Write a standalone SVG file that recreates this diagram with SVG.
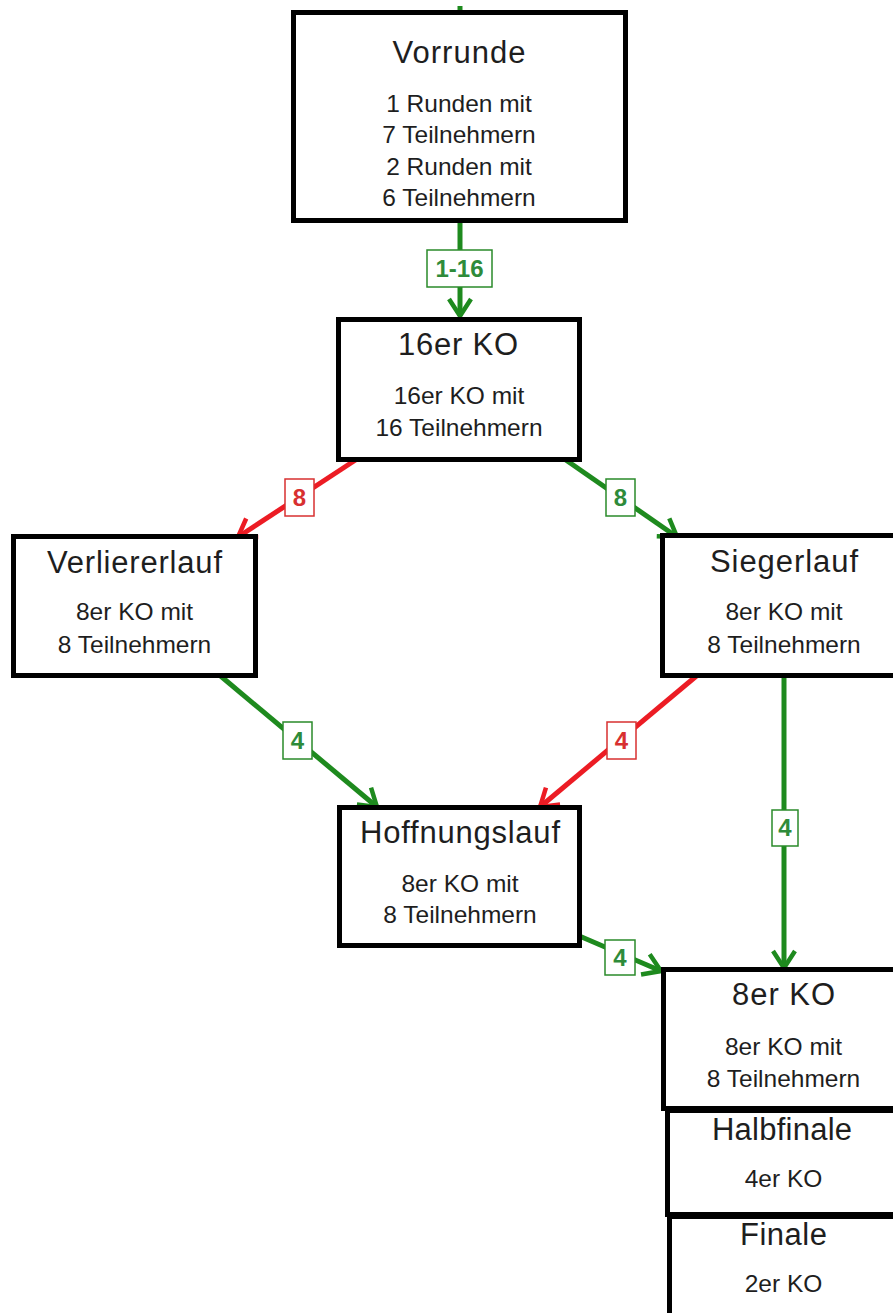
<svg xmlns="http://www.w3.org/2000/svg" width="893" height="1313" viewBox="0 0 893 1313">
<style>
.box{fill:#fff;stroke:#000;stroke-width:5}
.t{font-family:"Liberation Sans",Arial,sans-serif;font-size:31px;fill:#1e1e1e;text-anchor:middle}
.b{font-family:"Liberation Sans",Arial,sans-serif;font-size:24.5px;fill:#1e1e1e;text-anchor:middle}
.g{stroke:#1e8a1e;stroke-width:5;fill:none}
.r{stroke:#ec1c24;stroke-width:5;fill:none}
.lg{fill:#fff;stroke:#2a8a2a;stroke-width:1.5}
.lr{fill:#fff;stroke:#d83030;stroke-width:1.5}
.ltg{font-family:"Liberation Sans",Arial,sans-serif;font-size:24px;font-weight:bold;fill:#2e8b3a;text-anchor:middle}
.ltr{font-family:"Liberation Sans",Arial,sans-serif;font-size:24px;font-weight:bold;fill:#d83030;text-anchor:middle}
</style>
<defs>
<marker id="ag" markerUnits="userSpaceOnUse" viewBox="-22 -14 26 28" refX="0" refY="0" markerWidth="26" markerHeight="28" orient="auto">
<path d="M -17 -11 L 0 0 L -17 11" fill="none" stroke="#1e8a1e" stroke-width="4.5"/>
</marker>
<marker id="ar" markerUnits="userSpaceOnUse" viewBox="-22 -14 26 28" refX="0" refY="0" markerWidth="26" markerHeight="28" orient="auto">
<path d="M -17 -11 L 0 0 L -17 11" fill="none" stroke="#ec1c24" stroke-width="4.5"/>
</marker>
</defs>
<rect width="893" height="1313" fill="#fff"/>
<g id="connectors">
<line class="g" x1="460" y1="6" x2="460" y2="13"/>
<line class="g" x1="460" y1="223" x2="460" y2="316" marker-end="url(#ag)"/>
<line class="r" x1="357" y1="459" x2="238" y2="537" marker-end="url(#ar)"/>
<line class="g" x1="563" y1="458" x2="677" y2="537" marker-end="url(#ag)"/>
<line class="g" x1="217" y1="673" x2="377" y2="807" marker-end="url(#ag)"/>
<line class="r" x1="700" y1="673" x2="540" y2="807" marker-end="url(#ar)"/>
<line class="g" x1="784" y1="678" x2="784" y2="968" marker-end="url(#ag)"/>
<line class="g" x1="577" y1="935" x2="661" y2="971" marker-end="url(#ag)"/>
<rect class="lg" x="427" y="250" width="65" height="37"/>
<text class="ltg" x="459.5" y="277">1-16</text>
<rect class="lr" x="285" y="479" width="29" height="37"/>
<text class="ltr" x="299.5" y="506">8</text>
<rect class="lg" x="606" y="479" width="29" height="37"/>
<text class="ltg" x="620.5" y="506">8</text>
<rect class="lg" x="283" y="722" width="29" height="37"/>
<text class="ltg" x="297.5" y="749">4</text>
<rect class="lr" x="607" y="722" width="29" height="37"/>
<text class="ltr" x="621.5" y="749">4</text>
<rect class="lg" x="772" y="810" width="26" height="36"/>
<text class="ltg" x="785" y="836">4</text>
<rect class="lg" x="605" y="940" width="30" height="35"/>
<text class="ltg" x="620" y="966">4</text>
</g>
<g id="vorrunde">
<rect class="box" x="293.5" y="12.5" width="332" height="208"/>
<text class="t" x="459" y="63" textLength="133" lengthAdjust="spacing">Vorrunde</text>
<text class="b" x="459" y="112">1 Runden mit</text>
<text class="b" x="459" y="143">7 Teilnehmern</text>
<text class="b" x="459" y="175">2 Runden mit</text>
<text class="b" x="459" y="206">6 Teilnehmern</text>
</g>
<g id="ko16">
<rect class="box" x="338.5" y="319.5" width="241" height="140"/>
<text class="t" x="458" y="355" textLength="120" lengthAdjust="spacing">16er KO</text>
<text class="b" x="459" y="404">16er KO mit</text>
<text class="b" x="459" y="436">16 Teilnehmern</text>
</g>
<g id="verliererlauf">
<rect class="box" x="13.5" y="536.5" width="242" height="139"/>
<text class="t" x="134.5" y="573" textLength="175" lengthAdjust="spacing">Verliererlauf</text>
<text class="b" x="134.5" y="620">8er KO mit</text>
<text class="b" x="134.5" y="653">8 Teilnehmern</text>
</g>
<g id="siegerlauf">
<rect class="box" x="662.5" y="535.5" width="243" height="140"/>
<text class="t" x="784" y="572" textLength="148" lengthAdjust="spacing">Siegerlauf</text>
<text class="b" x="784" y="620">8er KO mit</text>
<text class="b" x="784" y="653">8 Teilnehmern</text>
</g>
<g id="hoffnungslauf">
<rect class="box" x="339.5" y="807.5" width="240" height="138"/>
<text class="t" x="460" y="843" textLength="200" lengthAdjust="spacing">Hoffnungslauf</text>
<text class="b" x="460" y="892">8er KO mit</text>
<text class="b" x="460" y="923">8 Teilnehmern</text>
</g>
<g id="ko8">
<rect class="box" x="663.5" y="969.5" width="243" height="139"/>
<text class="t" x="783.5" y="1005" textLength="103" lengthAdjust="spacing">8er KO</text>
<text class="b" x="783.5" y="1055">8er KO mit</text>
<text class="b" x="783.5" y="1087">8 Teilnehmern</text>
</g>
<g id="halbfinale">
<rect class="box" x="667.5" y="1110.5" width="240" height="104"/>
<text class="t" x="782" y="1140" textLength="140" lengthAdjust="spacing">Halbfinale</text>
<text class="b" x="783.5" y="1187">4er KO</text>
</g>
<g id="finale">
<rect class="box" x="669.5" y="1216.5" width="240" height="120"/>
<text class="t" x="783.5" y="1245" textLength="87" lengthAdjust="spacing">Finale</text>
<text class="b" x="783.5" y="1292">2er KO</text>
</g>
</svg>
